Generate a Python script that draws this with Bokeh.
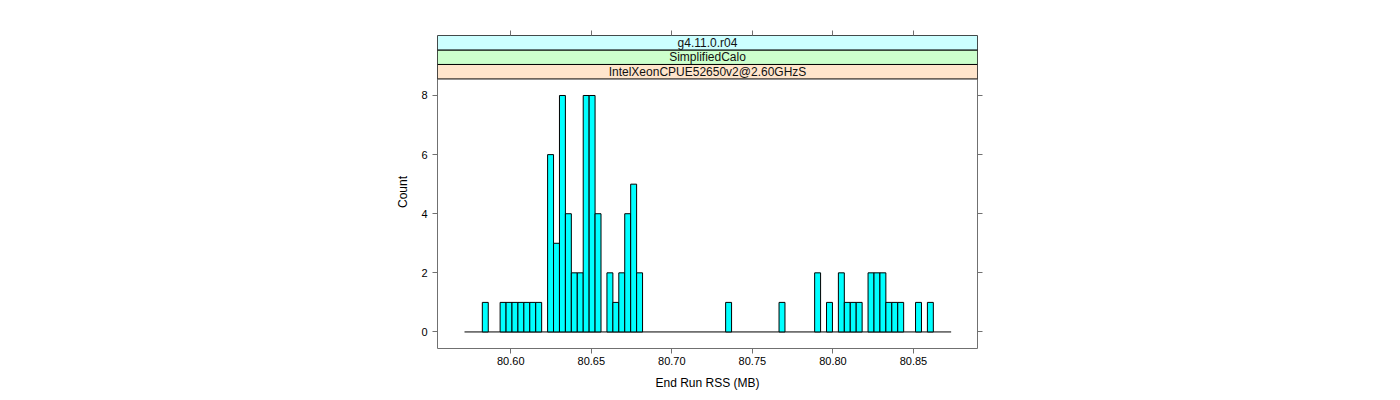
from bokeh.plotting import figure
from bokeh.models import Range1d, LinearAxis, FixedTicker, ColumnDataSource
from bokeh.core.properties import value
from bokeh.embed import file_html
from bokeh.resources import INLINE

# ---- data ----
hist_start = 80.5713
bin_width = 0.003684
counts = [0, 0, 0, 1, 0, 0, 1, 1, 1, 1, 1, 1, 1, 0,
          6, 3, 8, 4, 2, 2, 8, 8, 4, 0, 2, 1, 2, 4, 5, 2,
          0, 0, 0, 0, 0, 0, 0, 0, 0, 0, 0, 0, 0, 0,
          1, 0, 0, 0, 0, 0, 0, 0, 0,
          1, 0, 0, 0, 0, 0,
          2, 0, 1, 0, 2, 1, 1, 1, 0, 2, 2, 2, 1, 1, 1, 0, 0, 1, 0, 1, 0, 0, 0]
x_ticks = [80.60, 80.65, 80.70, 80.75, 80.80, 80.85]
y_ticks = [0, 2, 4, 6, 8]
strip_labels = ["IntelXeonCPUE52650v2@2.60GHzS", "SimplifiedCalo", "g4.11.0.r04"]
strip_colors = ["#ffe5cc", "#ccffcc", "#ccffff"]
x_label = "End Run RSS (MB)"
y_label = "Count"

assert len(counts) == 82
edges = [hist_start + i * bin_width for i in range(len(counts) + 1)]

FONT = "Liberation Sans"
FRAME = "#707070"

ymax = max(counts)
pad = 0.07 * ymax
y_lo, y_panel_top = -pad, ymax + pad
strip_h = 0.49
y_hi = y_panel_top + 3 * strip_h

p = figure(width=1384, height=392, output_backend="svg", toolbar_location=None,
           x_range=Range1d(80.55453, 80.88975), y_range=Range1d(y_lo, y_hi),
           min_border_left=437, min_border_right=407, min_border_top=35, min_border_bottom=44,
           x_axis_label=x_label, y_axis_label=y_label)
p.grid.visible = False
p.outline_line_color = FRAME
p.outline_line_width = 1
p.background_fill_color = "white"
p.border_fill_color = "white"

# bars
nz = [i for i, c in enumerate(counts) if c > 0]
src = ColumnDataSource(dict(left=[edges[i] for i in nz], right=[edges[i + 1] for i in nz],
                            top=[counts[i] for i in nz], bottom=[0] * len(nz)))
p.segment(x0=edges[0], x1=edges[-1], y0=0, y1=0, line_color="black", line_width=1)
p.quad(left="left", right="right", top="top", bottom="bottom", source=src,
       fill_color="#00ffff", line_color="black", line_width=1)

# strips
xr0, xr1 = p.x_range.start, p.x_range.end
for j, (lab, col) in enumerate(zip(strip_labels, strip_colors)):
    b = y_panel_top + j * strip_h
    p.quad(left=xr0, right=xr1, bottom=b, top=b + strip_h, fill_color=col,
           line_color="black", line_width=1)
    p.text(x=[(xr0 + xr1) / 2], y=[b + strip_h / 2], text=[lab], text_align="center",
           text_baseline="middle", text_font=value(FONT), text_font_size="12px",
           text_color="#111111")

def style(ax):
    ax.axis_line_color = None
    ax.major_tick_line_color = FRAME
    ax.major_tick_out = 5
    ax.major_tick_in = 0
    ax.minor_tick_line_color = None
    ax.major_label_text_font = FONT
    ax.major_label_text_font_size = "11px"
    ax.major_label_text_color = "black"
    ax.axis_label_text_font = FONT
    ax.axis_label_text_font_size = "12px"
    ax.axis_label_text_font_style = "normal"
    ax.axis_label_text_color = "black"

p.xaxis.ticker = FixedTicker(ticks=x_ticks)
p.yaxis.ticker = FixedTicker(ticks=y_ticks)
p.xaxis.major_label_overrides = {t: f"{t:.2f}" for t in x_ticks}
style(p.xaxis[0]); style(p.yaxis[0])
p.xaxis.major_label_standoff = 3
p.xaxis.axis_label_standoff = 8
p.yaxis.major_label_standoff = 5
p.yaxis.axis_label_standoff = 8
p.yaxis.major_label_orientation = "horizontal"

top_ax = LinearAxis(ticker=FixedTicker(ticks=x_ticks))
style(top_ax)
top_ax.major_label_overrides = {t: "" for t in x_ticks}
p.add_layout(top_ax, "above")
right_ax = LinearAxis(ticker=FixedTicker(ticks=y_ticks))
style(right_ax)
right_ax.major_label_overrides = {t: "" for t in y_ticks}
p.add_layout(right_ax, "right")

open("out.html", "w").write(file_html(p, INLINE))
